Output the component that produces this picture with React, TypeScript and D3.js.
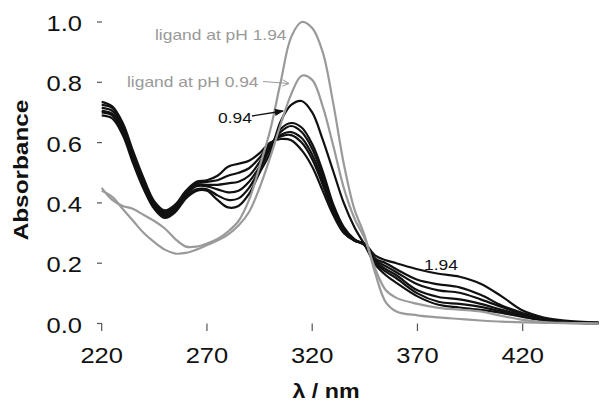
import React from "react";
import * as d3 from "d3";

// Wavelength grid (nm) shared by every spectrum
const wavelengths = [220, 225, 230, 235, 240, 245, 250, 255, 260, 265, 270, 275, 280, 285, 290, 295, 300, 305, 310, 315, 320, 325, 330, 335, 340, 345, 350, 355, 360, 370, 380, 390, 400, 410, 420, 430, 440, 456];

// Complex spectra, pH 0.94 -> 1.94
const complexPH094 = [0.69, 0.68, 0.625, 0.53, 0.445, 0.38, 0.35, 0.37, 0.415, 0.44, 0.44, 0.41, 0.385, 0.39, 0.43, 0.5, 0.565, 0.67, 0.725, 0.738, 0.7, 0.61, 0.505, 0.4, 0.32, 0.26, 0.195, 0.16, 0.135, 0.09, 0.062, 0.053, 0.045, 0.035, 0.022, 0.01, 0.004, 0.001];
const complexB = [0.70, 0.69, 0.635, 0.54, 0.455, 0.385, 0.355, 0.375, 0.42, 0.445, 0.445, 0.425, 0.41, 0.415, 0.45, 0.51, 0.58, 0.645, 0.665, 0.65, 0.595, 0.505, 0.395, 0.32, 0.28, 0.26, 0.2, 0.172, 0.15, 0.1, 0.072, 0.065, 0.055, 0.04, 0.025, 0.011, 0.004, 0.001];
const complexC = [0.705, 0.695, 0.64, 0.545, 0.46, 0.39, 0.36, 0.38, 0.425, 0.455, 0.455, 0.445, 0.435, 0.44, 0.47, 0.52, 0.585, 0.635, 0.655, 0.635, 0.58, 0.49, 0.385, 0.315, 0.278, 0.26, 0.205, 0.18, 0.16, 0.11, 0.088, 0.08, 0.065, 0.045, 0.027, 0.012, 0.004, 0.001];
const complexD = [0.715, 0.705, 0.65, 0.555, 0.47, 0.395, 0.365, 0.385, 0.43, 0.46, 0.46, 0.46, 0.465, 0.47, 0.49, 0.535, 0.59, 0.625, 0.635, 0.615, 0.56, 0.475, 0.375, 0.31, 0.276, 0.26, 0.21, 0.19, 0.17, 0.13, 0.11, 0.102, 0.08, 0.055, 0.03, 0.013, 0.005, 0.001];
const complexE = [0.725, 0.715, 0.655, 0.56, 0.475, 0.4, 0.37, 0.39, 0.435, 0.465, 0.47, 0.475, 0.49, 0.5, 0.515, 0.55, 0.595, 0.62, 0.625, 0.6, 0.545, 0.46, 0.37, 0.305, 0.275, 0.262, 0.215, 0.2, 0.18, 0.145, 0.13, 0.12, 0.095, 0.06, 0.035, 0.015, 0.006, 0.002];
const complexPH194 = [0.735, 0.72, 0.665, 0.57, 0.48, 0.405, 0.375, 0.395, 0.44, 0.47, 0.475, 0.49, 0.52, 0.53, 0.54, 0.565, 0.6, 0.612, 0.608, 0.575, 0.52, 0.44, 0.36, 0.3, 0.275, 0.265, 0.225, 0.21, 0.2, 0.18, 0.165, 0.155, 0.132, 0.09, 0.043, 0.02, 0.01, 0.004];

// Free ligand spectra
const ligandPH194 = [0.45, 0.41, 0.39, 0.38, 0.36, 0.34, 0.315, 0.28, 0.255, 0.255, 0.265, 0.28, 0.305, 0.34, 0.41, 0.52, 0.64, 0.8, 0.95, 1.0, 0.98, 0.9, 0.73, 0.53, 0.38, 0.29, 0.165, 0.07, 0.04, 0.027, 0.02, 0.015, 0.01, 0.006, 0.004, 0.002, 0.001, 0];
const ligandPH094 = [0.44, 0.42, 0.38, 0.34, 0.30, 0.27, 0.245, 0.232, 0.234, 0.245, 0.26, 0.275, 0.295, 0.325, 0.37, 0.45, 0.55, 0.66, 0.76, 0.822, 0.808, 0.72, 0.59, 0.45, 0.35, 0.28, 0.18, 0.11, 0.085, 0.065, 0.052, 0.046, 0.04, 0.025, 0.012, 0.005, 0.002, 0];

const complexSeries = [complexPH094, complexB, complexC, complexD, complexE, complexPH194];
const ligandSeries = [ligandPH194, ligandPH094];

const xTicks = [220, 270, 320, 370, 420];
const yTicks = [0, 0.2, 0.4, 0.6, 0.8, 1.0];

const WIDTH = 600;
const HEIGHT = 406;
const FONT = "'Liberation Sans', Arial, Helvetica, sans-serif";
const STRETCH = 1.16;

const x = d3.scaleLinear().domain([220, 420]).range([101.7, 522.7]);
const y = d3.scaleLinear().domain([0, 1]).range([323.5, 22]);

const line = d3
  .line<number>()
  .x((_, i) => x(wavelengths[i]))
  .y((d) => y(d))
  .curve(d3.curveCatmullRom.alpha(0.5));

type LabelProps = {
  x: number;
  y: number;
  rotate?: number;
  anchor?: "start" | "middle" | "end";
  size: number;
  weight?: string | number;
  fill?: string;
  children: React.ReactNode;
};

// Text drawn with a slightly widened face
function Label({ x: lx, y: ly, rotate = 0, anchor = "start", size, weight = "normal", fill = "#111", children }: LabelProps) {
  return (
    <g transform={`translate(${lx},${ly}) rotate(${rotate})`}>
      <text
        transform={`scale(${STRETCH},1)`}
        textAnchor={anchor}
        fontFamily={FONT}
        fontSize={size}
        fontWeight={weight}
        fill={fill}
      >
        {children}
      </text>
    </g>
  );
}

export default function App() {
  return (
    <svg
      width={WIDTH}
      height={HEIGHT}
      viewBox={`0 0 ${WIDTH} ${HEIGHT}`}
      style={{ position: "absolute", left: 0, top: 0, background: "#fff" }}
    >
      <defs>
        <marker id="headFilled" viewBox="0 0 10 10" refX="9" refY="5" markerWidth="7" markerHeight="7" orient="auto">
          <path d="M0,1 L10,5 L0,9 z" fill="#111" />
        </marker>
        <marker id="headOpen" viewBox="0 0 10 10" refX="9" refY="5" markerWidth="8" markerHeight="8" orient="auto" markerUnits="userSpaceOnUse">
          <path d="M1,1 L9,5 L1,9" fill="none" stroke="#999" strokeWidth={1.2} />
        </marker>
      </defs>

      {/* y ticks and labels */}
      {yTicks.map((t) => (
        <g key={`y${t}`}>
          <line x1={97} x2={102} y1={y(t)} y2={y(t)} stroke="#555" strokeWidth={1.2} />
          <Label x={82} y={y(t) + 9} anchor="end" size={22}>
            {t.toFixed(1)}
          </Label>
        </g>
      ))}

      {/* x ticks and labels */}
      {xTicks.map((t) => (
        <g key={`x${t}`}>
          <line x1={x(t)} x2={x(t)} y1={323.5} y2={331} stroke="#555" strokeWidth={1.2} />
          <Label x={x(t)} y={363} anchor="middle" size={22}>
            {t}
          </Label>
        </g>
      ))}

      {/* complex spectra */}
      {complexSeries.map((s, i) => (
        <path key={`c${i}`} d={line(s) ?? ""} fill="none" stroke="#111" strokeWidth={2.2} strokeLinejoin="round" />
      ))}

      {/* ligand spectra */}
      {ligandSeries.map((s, i) => (
        <path key={`l${i}`} d={line(s) ?? ""} fill="none" stroke="#9a9a9a" strokeWidth={2.2} strokeLinejoin="round" />
      ))}

      {/* annotations */}
      <Label x={155} y={40} size={15} fill="#999">
        ligand at pH 1.94
      </Label>
      <Label x={127} y={87} size={15} fill="#999">
        ligand at pH 0.94
      </Label>
      <line x1={263} y1={81.5} x2={289} y2={83.5} stroke="#999" strokeWidth={1.1} markerEnd="url(#headOpen)" />
      <Label x={218} y={123} size={15}>
        0.94
      </Label>
      <line x1={252} y1={116} x2={283} y2={111} stroke="#111" strokeWidth={1.3} markerEnd="url(#headFilled)" />
      <Label x={424} y={270} size={15}>
        1.94
      </Label>

      {/* axis titles */}
      <Label x={28} y={170} rotate={-90} anchor="middle" size={21} weight="bold">
        Absorbance
      </Label>
      <Label x={326} y={398} anchor="middle" size={20} weight="bold">
        λ / nm
      </Label>
    </svg>
  );
}
